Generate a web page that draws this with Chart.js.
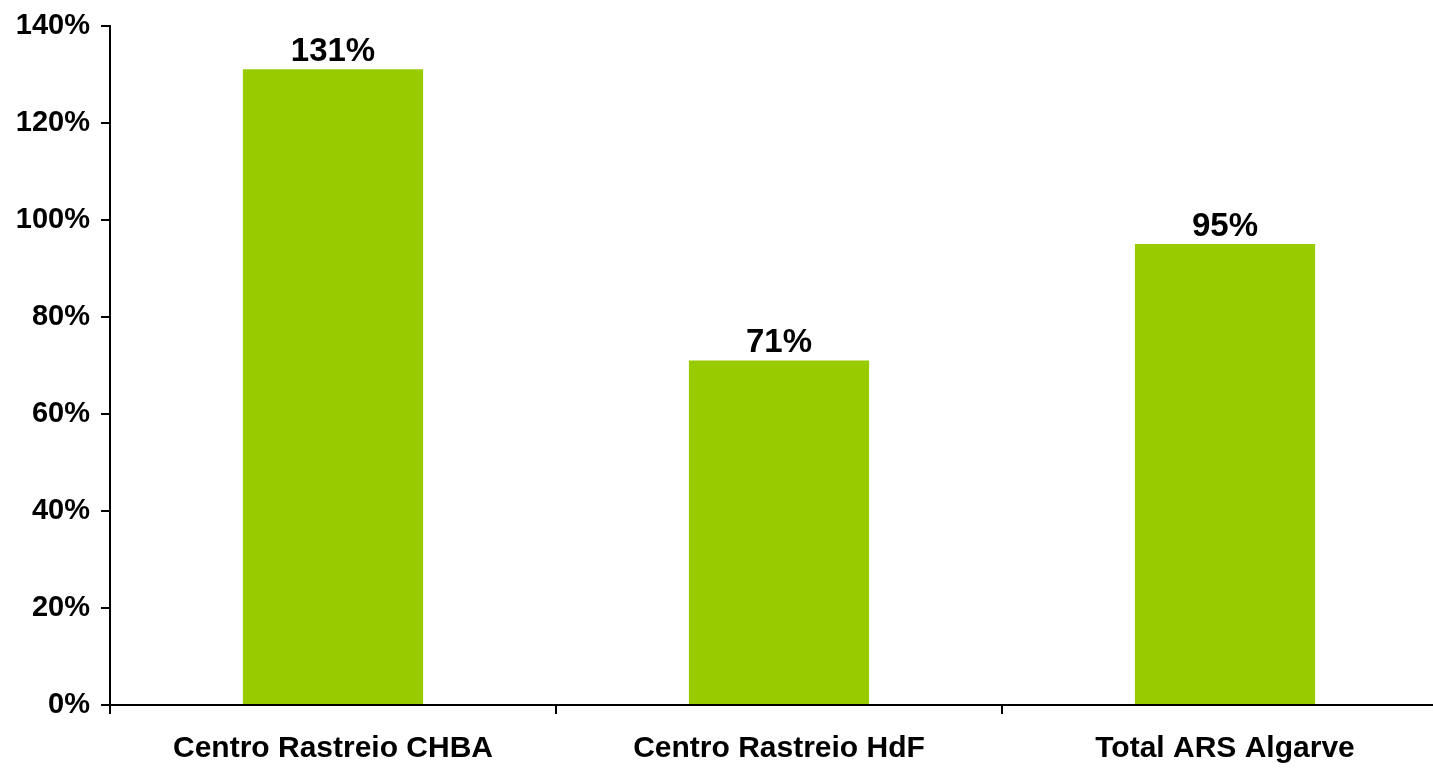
<!DOCTYPE html>
<html>
<head>
<meta charset="utf-8">
<script src="https://cdn.jsdelivr.net/npm/chart.js@4/dist/chart.umd.min.js"></script>
<style>
  html,body{margin:0;padding:0;background:#fff;overflow:hidden}
  #wrap{position:relative;width:1460px;height:769px}
</style>
</head>
<body>
<div id="wrap"><canvas id="c"></canvas></div>
<script>
// Data
const categories = ["Centro Rastreio CHBA", "Centro Rastreio HdF", "Total ARS Algarve"];
const values = [131, 71, 95];
const yTicks = [0, 20, 40, 60, 80, 100, 120, 140];

const FONT = "'Liberation Sans', Arial, sans-serif";

// labels above bars
const barLabels = {
  id: "barLabels",
  afterDatasetsDraw(chart){
    const ctx = chart.ctx;
    const meta = chart.getDatasetMeta(0);
    ctx.save();
    ctx.font = "bold 33px " + FONT;
    ctx.fillStyle = "#000";
    ctx.textAlign = "center";
    ctx.textBaseline = "alphabetic";
    meta.data.forEach((bar, i) => {
      ctx.fillText(values[i] + "%", bar.x, bar.y - 8);
    });
    ctx.restore();
  }
};

new Chart(document.getElementById("c"), {
  type: "bar",
  data: {
    labels: categories,
    datasets: [{
      data: values,
      backgroundColor: "#99CC00",
      barPercentage: 0.404,
      categoryPercentage: 1
    }]
  },
  options: {
    responsive: true,
    maintainAspectRatio: false,
    animation: false,
    layout: { padding: { top: 21, right: 12, left: 0, bottom: 0 } },
    plugins: { legend: { display: false }, tooltip: { enabled: false } },
    scales: {
      x: {
        grid: { display: true, offset: true, drawOnChartArea: false, drawTicks: true, tickLength: 9, color: "#000", lineWidth: 2 },
        border: { color: "#000", width: 2 },
        ticks: { color: "#000", font: { family: FONT, size: 30, weight: "bold" }, padding: 17, maxRotation: 0 },
        afterFit: s => { s.height = 64; }
      },
      y: {
        min: 0, max: 140,
        afterBuildTicks: s => { s.ticks = yTicks.map(v => ({ value: v })); },
        grid: { display: true, drawOnChartArea: false, drawTicks: true, tickLength: 9, color: "#000", lineWidth: 2 },
        border: { color: "#000", width: 2 },
        ticks: { color: "#000", font: { family: FONT, size: 29, weight: "bold", lineHeight: 1 }, padding: 11, callback: v => v + "%" },
        afterFit: s => { s.width = 110; }
      }
    }
  },
  plugins: [barLabels]
});
</script>
</body>
</html>
